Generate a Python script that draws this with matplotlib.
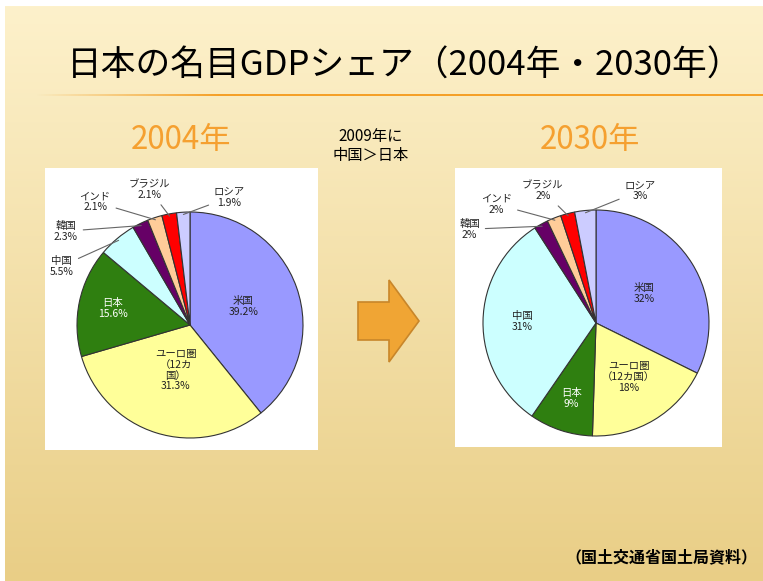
import numpy as np
import matplotlib
matplotlib.use("Agg")
import matplotlib.pyplot as plt
from matplotlib.patches import Polygon

plt.rcParams['font.family'] = ['Noto Sans CJK JP', 'DejaVu Sans']

# ---------------------------
# Data
# ---------------------------
countries = ["米国", "ユーロ圏", "日本", "中国", "韓国", "インド", "ブラジル", "ロシア"]
share_2004 = [39.2, 31.3, 15.6, 5.5, 2.3, 2.1, 2.1, 1.9]
share_2030 = [32, 18, 9, 31, 2, 2, 2, 3]
labels_2004 = ["米国\n39.2%", "ユーロ圏\n（12カ\n国）\n31.3%", "日本\n15.6%", "中国\n5.5%",
               "韓国\n2.3%", "インド\n2.1%", "ブラジル\n2.1%", "ロシア\n1.9%"]
labels_2030 = ["米国\n32%", "ユーロ圏\n（12カ国）\n18%", "日本\n9%", "中国\n31%",
               "韓国\n2%", "インド\n2%", "ブラジル\n2%", "ロシア\n3%"]

title = "日本の名目GDPシェア（2004年・2030年）"
note = "2009年に\n中国＞日本"
source = "（国土交通省国土局資料）"

colors = ["#9999FF", "#FFFF99", "#2F7F10", "#CCFFFF", "#660066", "#FFCC99", "#FF0000", "#CCCCFF"]

W, H = 763, 581
fig = plt.figure(figsize=(W / 100, H / 100), dpi=100, facecolor="white")


def px(x0, y0, x1, y1):
    # pixel box (top-left origin) -> figure fraction rect
    return [x0 / W, 1 - y1 / H, (x1 - x0) / W, (y1 - y0) / H]


# ---------------------------
# Slide background
# ---------------------------
bg = fig.add_axes(px(5, 6, W, H))
top = np.array([253, 241, 203]) / 255
bottom = np.array([233, 206, 134]) / 255
t = np.linspace(0, 1, 256)[:, None, None]
grad = top * (1 - t) + bottom * t
grad = np.repeat(grad, 4, axis=1)
bg.imshow(grad, aspect="auto", extent=[0, 1, 0, 1])
bg.set_axis_off()

# title + underline
fig.text(405 / W, 1 - 66 / H, title, ha="center", va="center", fontsize=25, color="black")
line_ax = fig.add_axes(px(35, 94, W, 96))
lg = np.zeros((1, 256, 4))
lg[0, :, :3] = np.array([245, 160, 40]) / 255
lg[0, :, 3] = np.clip(np.linspace(0, 4, 256), 0, 1)
line_ax.imshow(lg, aspect="auto", extent=[0, 1, 0, 1])
line_ax.set_axis_off()


# ---------------------------
# Pies
# ---------------------------
def draw_pie(box, center, values, labels, outer_pos, inner_r):
    x0, y0, x1, y1 = box
    cx, cy = center
    r = 113.0
    ax = fig.add_axes(px(x0, y0, x1, y1))
    ax.set_facecolor("white")
    wedges, _ = ax.pie(values, colors=colors, startangle=90, counterclock=False,
                       wedgeprops=dict(edgecolor="#333333", linewidth=0.8))
    ax.set_aspect("auto")
    ax.set_xlim(-(cx - x0) / r, (x1 - cx) / r)
    ax.set_ylim(-(y1 - cy) / r, (cy - y0) / r)
    ax.set_xticks([])
    ax.set_yticks([])
    for s in ax.spines.values():
        s.set_visible(False)
    ax.set_frame_on(True)
    for i, w in enumerate(wedges):
        mid = np.deg2rad((w.theta1 + w.theta2) / 2)
        if i in inner_r:
            rr = inner_r[i]
            c = "white" if i == 2 else "#222222"
            ax.text(rr * np.cos(mid), rr * np.sin(mid), labels[i], ha="center", va="center",
                    fontsize=7.5, color=c, linespacing=1.1)
        else:
            ax.annotate(labels[i], xy=(0.98 * np.cos(mid), 0.98 * np.sin(mid)),
                        xytext=outer_pos[i], ha="center", va="center", fontsize=7.5,
                        color="#222222", linespacing=1.1,
                        arrowprops=dict(arrowstyle="-", color="#666666", lw=0.8,
                                        shrinkA=2, shrinkB=0))
    return ax


outer_2004 = {3: (-1.14, 0.52), 4: (-1.10, 0.83), 5: (-0.84, 1.09), 6: (-0.36, 1.20), 7: (0.35, 1.13)}
outer_2030 = {4: (-1.12, 0.83), 5: (-0.88, 1.05), 6: (-0.47, 1.17), 7: (0.39, 1.17)}

draw_pie((45, 168, 318, 450), (190, 325), share_2004, labels_2004, outer_2004,
         {0: 0.5, 1: 0.42, 2: 0.7})
draw_pie((455, 168, 722, 447), (596, 323), share_2030, labels_2030, outer_2030,
         {0: 0.5, 1: 0.56, 2: 0.7, 3: 0.65})

# year headings
fig.text(181 / W, 1 - 140 / H, "2004年", ha="center", va="center", fontsize=22.5, color="#F5A030")
fig.text(590 / W, 1 - 140 / H, "2030年", ha="center", va="center", fontsize=22.5, color="#F5A030")
fig.text(371 / W, 1 - 146 / H, note, ha="center", va="center", fontsize=11,
         color="black", linespacing=1.15)

# block arrow
arrow_pts = [(358, 302), (389, 302), (389, 280), (419, 321), (389, 362), (389, 340), (358, 340)]
arrow = Polygon([(x / W, 1 - y / H) for x, y in arrow_pts], closed=True,
                facecolor="#F0A534", edgecolor="#C8862A", linewidth=1.2,
                transform=fig.transFigure)
fig.patches.append(arrow)

# source
fig.text(757 / W, 1 - 557 / H, source, ha="right", va="center", fontsize=11.5,
         fontweight="bold", color="black")

fig.savefig("out.png", dpi=100)
